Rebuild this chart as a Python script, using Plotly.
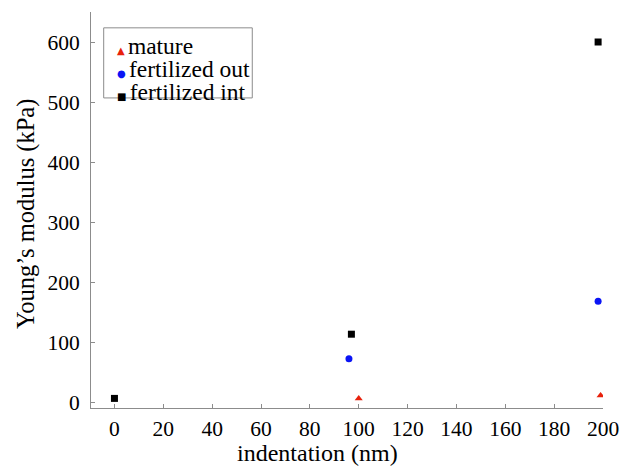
import plotly.graph_objects as go

mature_x = [100, 199]
mature_y = [6, 11]
fert_out_x = [96, 198]
fert_out_y = [72, 168]
fert_int_x = [0, 97, 198]
fert_int_y = [6, 113, 600]

series_names = ["mature", "fertilized out", "fertilized int"]
series_colors = ["#e8210c", "#0a14f5", "black"]
series_symbols = ["triangle-up", "circle", "square"]
legend_glyphs = ["▲", "●", "■"]

x_ticks = list(range(0, 201, 20))
y_ticks = list(range(0, 601, 100))

x_title = "indentation (nm)"
y_title = "Young’s modulus (kPa)"

FONT = "Liberation Serif"

fig = go.Figure()
for xs, ys, name, color, sym in zip([mature_x, fert_out_x, fert_int_x],
                                    [mature_y, fert_out_y, fert_int_y],
                                    series_names, series_colors, series_symbols):
    fig.add_trace(go.Scatter(x=xs, y=ys, mode="markers", name=name, showlegend=False,
                             marker=dict(symbol=sym, size=7, color=color)))

axis_common = dict(showgrid=False, zeroline=False, showline=True, linecolor="#8c8c8c",
                   linewidth=1, ticks="inside", ticklen=4, tickcolor="#8c8c8c",
                   ticklabeloverflow="allow",
                   tickfont=dict(family=FONT, size=21.5, color="black"))

fig.update_xaxes(range=[-9.6, 200], tickvals=x_ticks, ticklabelstandoff=1, **axis_common)
fig.update_yaxes(range=[-10, 650], tickvals=y_ticks, ticklabelstandoff=6, **axis_common)

fig.add_annotation(text=x_title, xref="paper", yref="paper", x=0.443, y=-0.113,
                   xanchor="center", yanchor="middle", showarrow=False,
                   font=dict(family=FONT, size=24, color="black"))
fig.add_annotation(text=y_title, xref="paper", yref="paper", x=-0.127, y=0.49,
                   xanchor="center", yanchor="middle", showarrow=False, textangle=-90,
                   font=dict(family=FONT, size=24.5, color="black"))

# legend box (manual, to match the compact layout of the original)
fig.add_shape(type="rect", xref="paper", yref="paper", x0=0.0248, x1=0.315, y0=0.783, y1=0.96,
              line=dict(color="#8c8c8c", width=1), fillcolor="white", layer="above")
legend_lines = [
    f'<span style="color:{c};font-size:10px;font-family:DejaVu Sans">{g} </span>'
    f'<span style="font-size:23.5px">{n}</span>'
    for n, c, g in zip(series_names, series_colors, legend_glyphs)
]
fig.add_annotation(
    text="<br>".join(legend_lines),
    xref="paper", yref="paper", x=0.0467, y=0.856, xanchor="left", yanchor="middle",
    showarrow=False, align="left",
    font=dict(family=FONT, size=17.5, color="black"))

fig.update_layout(
    width=631, height=466,
    margin=dict(l=91, r=16, t=12, b=58),
    plot_bgcolor="white", paper_bgcolor="white",
    font=dict(family=FONT, size=19, color="black"),
    showlegend=False,
)

fig.write_html("out.html", config={"displayModeBar": False},
               post_script="document.body.style.margin='0';")
